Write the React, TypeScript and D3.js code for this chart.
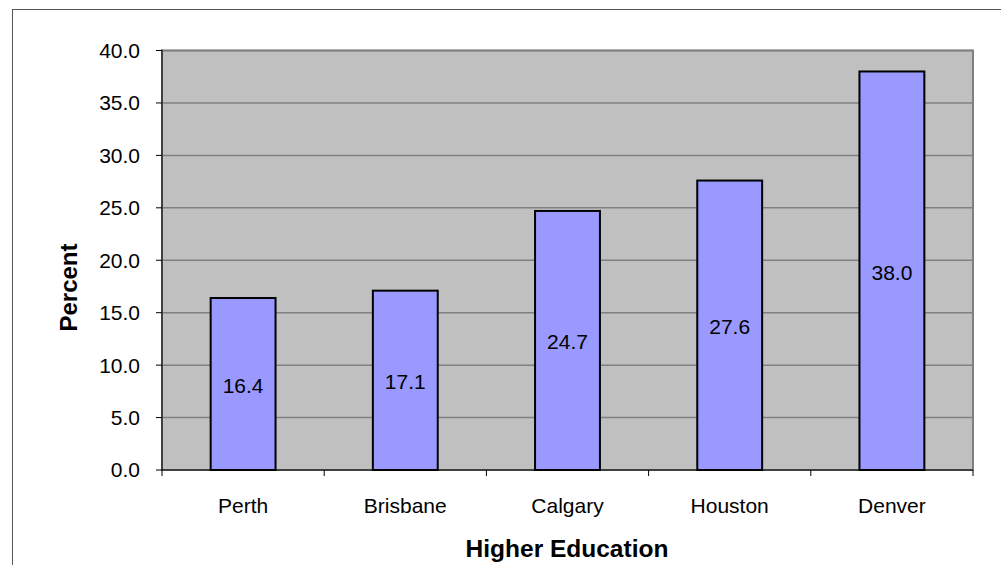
import React from "react";
import * as d3 from "d3";

const categories = ["Perth", "Brisbane", "Calgary", "Houston", "Denver"];
const values = [16.4, 17.1, 24.7, 27.6, 38.0];
const yTicks = [0, 5, 10, 15, 20, 25, 30, 35, 40];

const W = 1001;
const H = 565;
const plot = { left: 162, right: 973, top: 50.5, bottom: 470 };
const font = "Arial, 'Liberation Sans', sans-serif";

export default function App() {
  const x = d3
    .scaleBand<string>()
    .domain(categories)
    .range([plot.left, plot.right])
    .paddingInner(0.6)
    .paddingOuter(0.3);
  const bandEdges = d3
    .scaleLinear()
    .domain([0, categories.length])
    .range([plot.left, plot.right]);
  const y = d3.scaleLinear().domain([0, 40]).range([plot.bottom, plot.top]);

  return (
    <svg
      width={W}
      height={H}
      style={{ position: "absolute", left: 0, top: 0, display: "block" }}
    >
      <rect x={0} y={0} width={W} height={H} fill="#fff" />
      {/* chart frame */}
      <rect x={12.5} y={9.5} width={W + 10} height={H + 10} fill="none" stroke="#555" strokeWidth={1} />
      {/* plot area */}
      <rect
        x={plot.left}
        y={plot.top}
        width={plot.right - plot.left}
        height={plot.bottom - plot.top}
        fill="#C0C0C0"
        stroke="#808080"
        strokeWidth={2}
      />
      {yTicks.map((t) => (
        <g key={t}>
          {t > 0 && (
            <line x1={plot.left} x2={plot.right} y1={y(t)} y2={y(t)} stroke="#808080" strokeWidth={1.5} />
          )}
          <line x1={plot.left - 6} x2={plot.left} y1={y(t)} y2={y(t)} stroke="#000" strokeWidth={1} />
          <text
            x={140}
            y={y(t) + 7.4}
            textAnchor="end"
            fontFamily={font}
            fontSize={21}
            fill="#000"
          >
            {t.toFixed(1)}
          </text>
        </g>
      ))}
      {/* axes */}
      <line x1={plot.left} x2={plot.left} y1={plot.top - 1} y2={plot.bottom} stroke="#000" strokeWidth={1} />
      <line x1={plot.left} x2={plot.right} y1={plot.bottom} y2={plot.bottom} stroke="#000" strokeWidth={1} />
      {d3.range(categories.length + 1).map((i) => (
        <line
          key={i}
          x1={bandEdges(i)}
          x2={bandEdges(i)}
          y1={plot.bottom}
          y2={plot.bottom + 6}
          stroke="#000"
          strokeWidth={1}
        />
      ))}
      {categories.map((c, i) => {
        const bx = x(c)!;
        const bw = x.bandwidth();
        const top = y(values[i]);
        return (
          <g key={c}>
            <rect
              x={bx}
              y={top}
              width={bw}
              height={plot.bottom - top}
              fill="#9999FF"
              stroke="#000"
              strokeWidth={2}
            />
            <text
              x={bx + bw / 2}
              y={(top + plot.bottom) / 2 + 9}
              textAnchor="middle"
              fontFamily={font}
              fontSize={21}
              fill="#000"
            >
              {values[i].toFixed(1)}
            </text>
            <text
              x={bx + bw / 2}
              y={512.7}
              textAnchor="middle"
              fontFamily={font}
              fontSize={21}
              fill="#000"
            >
              {c}
            </text>
          </g>
        );
      })}
      <text
        x={567}
        y={557}
        textAnchor="middle"
        fontFamily={font}
        fontSize={24.5}
        fontWeight="bold"
        fill="#000"
      >
        Higher Education
      </text>
      <text
        transform={`translate(76.5, ${287.5}) rotate(-90)`}
        textAnchor="middle"
        fontFamily={font}
        fontSize={24}
        fontWeight="bold"
        fill="#000"
      >
        Percent
      </text>
    </svg>
  );
}
